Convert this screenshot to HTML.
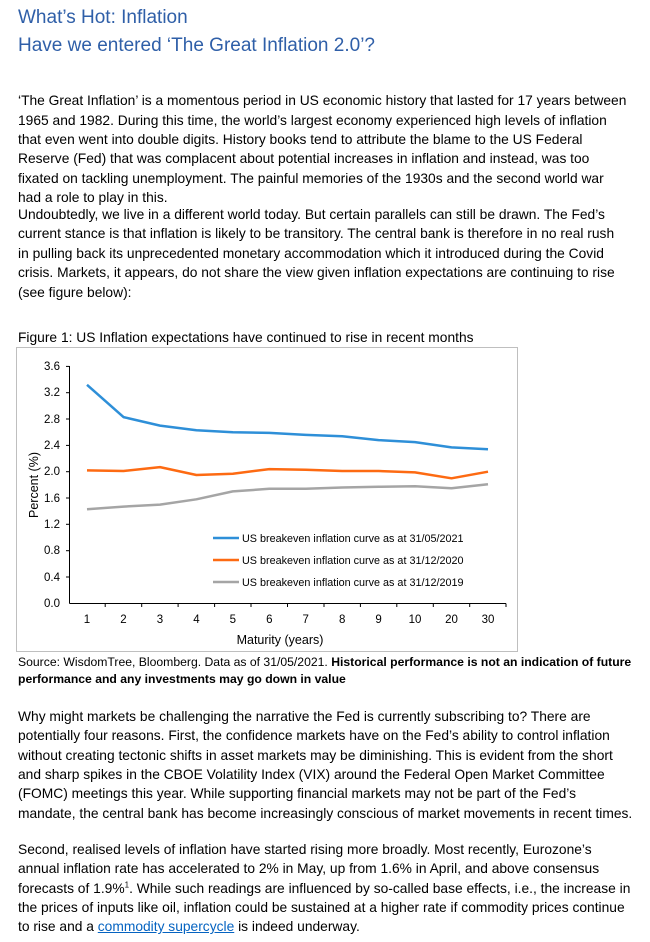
<!DOCTYPE html>
<html><head><meta charset="utf-8"><style>
body{margin:0;width:650px;height:942px;background:#fff;position:relative;overflow:hidden;font-family:"Liberation Sans",sans-serif;color:#000}
.t{position:absolute;left:18px;font-size:19px;color:#2f5fa8;white-space:nowrap;line-height:24px}
.l{position:absolute;left:18px;font-size:13.8px;line-height:18px;white-space:nowrap}
sup{font-size:8px;line-height:0}
a{color:#0563c1}
</style></head><body>
<div class="t" style="top:6px">What’s Hot: Inflation</div>
<div class="t" style="top:34px">Have we entered ‘The Great Inflation 2.0’?</div>

<div class="l" style="top:92px">‘The Great Inflation’ is a momentous period in US economic history that lasted for 17 years between</div>
<div class="l" style="top:112px">1965 and 1982. During this time, the world’s largest economy experienced high levels of inflation</div>
<div class="l" style="top:131px">that even went into double digits. History books tend to attribute the blame to the US Federal</div>
<div class="l" style="top:150px">Reserve (Fed) that was complacent about potential increases in inflation and instead, was too</div>
<div class="l" style="top:170px">fixated on tackling unemployment. The painful memories of the 1930s and the second world war</div>
<div class="l" style="top:189px">had a role to play in this.</div>

<div class="l" style="top:206px">Undoubtedly, we live in a different world today. But certain parallels can still be drawn. The Fed’s</div>
<div class="l" style="top:225px">current stance is that inflation is likely to be transitory. The central bank is therefore in no real rush</div>
<div class="l" style="top:245px">in pulling back its unprecedented monetary accommodation which it introduced during the Covid</div>
<div class="l" style="top:264px">crisis. Markets, it appears, do not share the view given inflation expectations are continuing to rise</div>
<div class="l" style="top:284px">(see figure below):</div>
<div class="l" style="top:329px">Figure 1: US Inflation expectations have continued to rise in recent months</div>

<svg style="position:absolute;left:0;top:0" width="650" height="942">
<rect x="16.5" y="347.5" width="501" height="304" fill="none" stroke="#bfbfbf"/>
<g stroke="#000" stroke-width="1" fill="none">
<line x1="69.5" y1="366" x2="69.5" y2="603.5"/>
<line x1="69.5" y1="603.5" x2="506" y2="603.5"/>
</g>
<g stroke="#000">
<line x1="66" x2="69.5" y1="366.4" y2="366.4"/><line x1="66" x2="69.5" y1="392.7" y2="392.7"/><line x1="66" x2="69.5" y1="419" y2="419"/><line x1="66" x2="69.5" y1="445.4" y2="445.4"/><line x1="66" x2="69.5" y1="471.7" y2="471.7"/><line x1="66" x2="69.5" y1="498" y2="498"/><line x1="66" x2="69.5" y1="524.3" y2="524.3"/><line x1="66" x2="69.5" y1="550.7" y2="550.7"/><line x1="66" x2="69.5" y1="577" y2="577"/>
</g>
<g font-size="11.5" text-anchor="end" font-family="Liberation Sans,sans-serif">
<text x="60" y="370">3.6</text><text x="60" y="396">3.2</text><text x="60" y="423">2.8</text><text x="60" y="449">2.4</text><text x="60" y="475">2.0</text><text x="60" y="502">1.6</text><text x="60" y="528">1.2</text><text x="60" y="554">0.8</text><text x="60" y="581">0.4</text><text x="60" y="607">0.0</text>
</g>
<g font-size="11.5" text-anchor="middle" font-family="Liberation Sans,sans-serif">
<text x="87" y="623">1</text><text x="123.5" y="623">2</text><text x="160" y="623">3</text><text x="196.4" y="623">4</text><text x="232.8" y="623">5</text><text x="269.3" y="623">6</text><text x="305.7" y="623">7</text><text x="342.2" y="623">8</text><text x="378.6" y="623">9</text><text x="415" y="623">10</text><text x="451.5" y="623">20</text><text x="488" y="623">30</text>
<text x="280" y="644" font-size="12.5">Maturity (years)</text>
<text transform="translate(38,485) rotate(-90)" font-size="12.5">Percent (%)</text>
</g>
<g stroke="#000">
<line x1="105.2" x2="105.2" y1="603.5" y2="607"/><line x1="141.7" x2="141.7" y1="603.5" y2="607"/><line x1="178.1" x2="178.1" y1="603.5" y2="607"/><line x1="214.6" x2="214.6" y1="603.5" y2="607"/><line x1="251" x2="251" y1="603.5" y2="607"/><line x1="287.5" x2="287.5" y1="603.5" y2="607"/><line x1="324" x2="324" y1="603.5" y2="607"/><line x1="360.4" x2="360.4" y1="603.5" y2="607"/><line x1="396.8" x2="396.8" y1="603.5" y2="607"/><line x1="433.3" x2="433.3" y1="603.5" y2="607"/><line x1="469.7" x2="469.7" y1="603.5" y2="607"/><line x1="506" x2="506" y1="603.5" y2="607"/>
</g>
<g fill="none" stroke-width="2.5" stroke-linejoin="round">
<polyline stroke="#2e8fd8" points="87,384.8 123.5,417.1 160,425.6 196.4,430.2 232.8,432.2 269.3,432.9 305.7,434.9 342.2,436.2 378.6,440.1 415,442.1 451.5,447.4 488,449.3"/>
<polyline stroke="#fd6a12" points="87,470.4 123.5,471.0 160,467.1 196.4,475.0 232.8,473.7 269.3,469.1 305.7,469.7 342.2,471.0 378.6,471.0 415,472.4 451.5,478.3 488,471.7"/>
<polyline stroke="#a5a5a5" points="87,509.2 123.5,506.6 160,504.6 196.4,499.3 232.8,491.4 269.3,488.8 305.7,488.8 342.2,487.5 378.6,486.8 415,486.2 451.5,488.2 488,484.2"/>
<line x1="213" x2="239" y1="538" y2="538" stroke="#2e8fd8" stroke-width="2.5"/>
<line x1="213" x2="239" y1="560" y2="560" stroke="#fd6a12" stroke-width="2.5"/>
<line x1="213" x2="239" y1="582" y2="582" stroke="#a5a5a5" stroke-width="2.5"/>
</g>
<g font-size="10.8" font-family="Liberation Sans,sans-serif">
<text x="242" y="542">US breakeven inflation curve as at 31/05/2021</text>
<text x="242" y="564">US breakeven inflation curve as at 31/12/2020</text>
<text x="242" y="586">US breakeven inflation curve as at 31/12/2019</text>
</g>
</svg>

<div class="l" style="top:653px;font-size:12.2px">Source: WisdomTree, Bloomberg. Data as of 31/05/2021. <b>Historical performance is not an indication of future</b></div>
<div class="l" style="top:670px;font-size:12.2px"><b>performance and any investments may go down in value</b></div>

<div class="l" style="top:708px">Why might markets be challenging the narrative the Fed is currently subscribing to? There are</div>
<div class="l" style="top:727px">potentially four reasons. First, the confidence markets have on the Fed’s ability to control inflation</div>
<div class="l" style="top:747px">without creating tectonic shifts in asset markets may be diminishing. This is evident from the short</div>
<div class="l" style="top:766px">and sharp spikes in the CBOE Volatility Index (VIX) around the Federal Open Market Committee</div>
<div class="l" style="top:785px">(FOMC) meetings this year. While supporting financial markets may not be part of the Fed’s</div>
<div class="l" style="top:805px">mandate, the central bank has become increasingly conscious of market movements in recent times.</div>

<div class="l" style="top:841px">Second, realised levels of inflation have started rising more broadly. Most recently, Eurozone’s</div>
<div class="l" style="top:860px">annual inflation rate has accelerated to 2% in May, up from 1.6% in April, and above consensus</div>
<div class="l" style="top:880px">forecasts of 1.9%<sup>1</sup>. While such readings are influenced by so-called base effects, i.e., the increase in</div>
<div class="l" style="top:899px">the prices of inputs like oil, inflation could be sustained at a higher rate if commodity prices continue</div>
<div class="l" style="top:918px">to rise and a <a href="#" style="text-decoration:underline">commodity supercycle</a> is indeed underway.</div>
</body></html>
